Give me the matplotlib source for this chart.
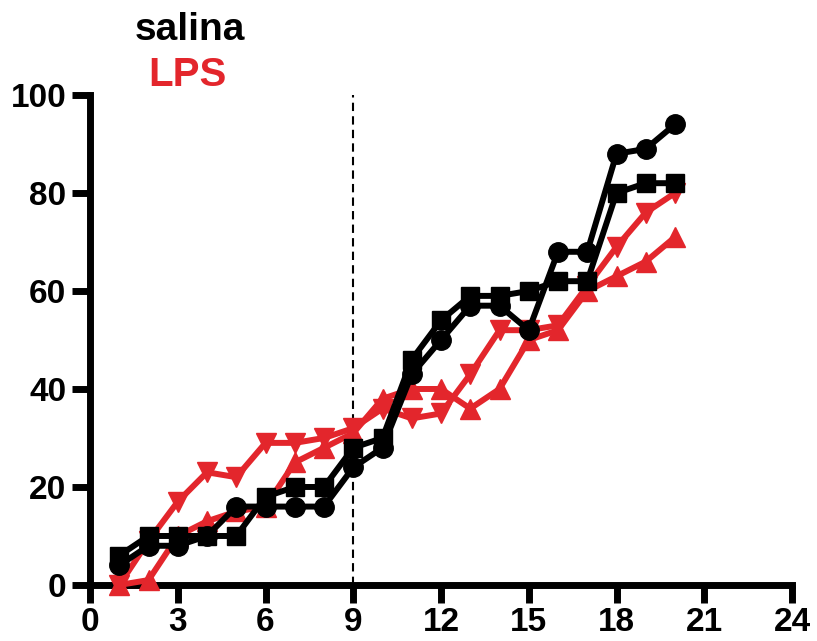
import matplotlib
matplotlib.use("Agg")
import matplotlib.pyplot as plt

# ==========================================
# Data
# ==========================================

days = list(range(1, 21))

salina_circles = [4, 8, 8, 10, 16, 16, 16, 16, 24, 28,
                  43, 50, 57, 57, 52, 68, 68, 88, 89, 94]
salina_squares = [6, 10, 10, 10, 10, 18, 20, 20, 28, 30,
                  46, 54, 59, 59, 60, 62, 62, 80, 82, 82]
lps_down = [0, 9, 17, 23, 22, 29, 29, 30, 32, 36,
            34, 35, 43, 52, 52, 53, 61, 69, 76, 80]
lps_up = [0, 1, 10, 13, 15, 16, 25, 28, 31, 38,
          40, 40, 36, 40, 50, 52, 60, 63, 66, 71]

x_ticks = [0, 3, 6, 9, 12, 15, 18, 21, 24]
y_ticks = [0, 20, 40, 60, 80, 100]
cut_day = 9

red = '#E3262C'

plt.rcParams['font.family'] = ['Liberation Sans', 'DejaVu Sans']
plt.rcParams['font.weight'] = 'bold'

# ==========================================
# Figure
# ==========================================

fig = plt.figure(figsize=(8.17, 6.41), dpi=100)
ax = fig.add_axes([0.1102, 0.0874, 0.8592, 0.7644])

ax.axvline(cut_day, ymin=0, ymax=1, color='black', linestyle='--',
           linewidth=1.5, dashes=(4, 2.5), zorder=1)

lw = 4.3
ax.plot(days, lps_up, '-^', color=red, linewidth=lw,
        markersize=14, clip_on=False, zorder=3)
ax.plot(days, lps_down, '-v', color=red, linewidth=lw,
        markersize=14, clip_on=False, zorder=3)
ax.plot(days, salina_squares, '-s', color='black', linewidth=lw,
        markersize=13, clip_on=False, zorder=4)
ax.plot(days, salina_circles, '-o', color='black', linewidth=lw,
        markersize=14, clip_on=False, zorder=4)

# ==========================================
# Axes
# ==========================================

ax.set_xlim(0, 24)
ax.set_ylim(0, 100)
ax.set_xticks(x_ticks)
ax.set_yticks(y_ticks)

for side in ['top', 'right']:
    ax.spines[side].set_visible(False)
for side in ['left', 'bottom']:
    ax.spines[side].set_linewidth(5)

ax.tick_params(axis='both', width=5, length=13, labelsize=24, pad=4)
ax.tick_params(axis='x', pad=3)
for lbl in ax.get_xticklabels() + ax.get_yticklabels():
    lbl.set_fontweight('bold')

# legend text
fig.text(0.2326, 0.953, "salina", color='black', fontsize=28,
         fontweight='bold', ha='center', va='center')
fig.text(0.230, 0.883, "LPS", color=red, fontsize=29,
         fontweight='bold', ha='center', va='center')

fig.savefig("out.png", dpi=100)
